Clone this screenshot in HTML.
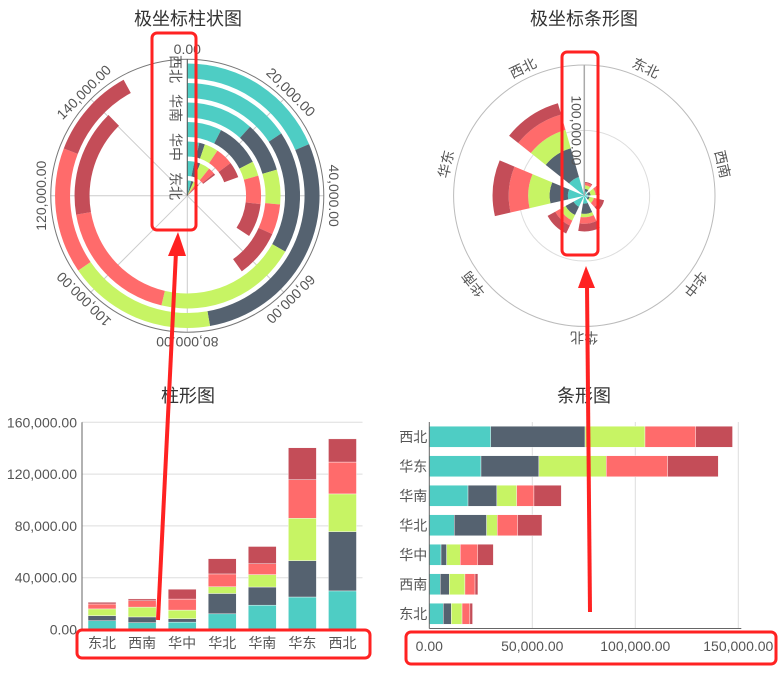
<!DOCTYPE html>
<html><head><meta charset="utf-8">
<style>
html,body{margin:0;padding:0;background:#fff;}
svg{display:block;font-family:"Liberation Sans","Noto Sans CJK SC",sans-serif;}
.title{font-size:18px;fill:#333;font-family:"Noto Sans CJK SC","Liberation Sans",sans-serif;}
.lbl{font-size:14px;fill:#555;font-family:"Liberation Sans","Noto Sans CJK SC",sans-serif;}
</style></head>
<body>
<svg id="c" width="782" height="677" viewBox="0 0 782 677" xmlns="http://www.w3.org/2000/svg">
<text class="title" x="188" y="25" text-anchor="middle">极坐标柱状图</text>
<text class="title" x="584" y="25" text-anchor="middle">极坐标条形图</text>
<text class="title" x="188" y="402" text-anchor="middle">柱形图</text>
<text class="title" x="584" y="402" text-anchor="middle">条形图</text>
<g id="g1"></g>
<g id="g2"></g>
<g id="g3"></g>
<g id="g4"></g>
<g id="annot">
<rect x="152" y="33" width="44" height="197" rx="5" fill="none" stroke="#f22" stroke-width="3"/>
<rect x="562" y="52" width="36" height="203" rx="5" fill="none" stroke="#f22" stroke-width="3"/>
<rect x="77" y="630" width="293" height="28" rx="5" fill="none" stroke="#f22" stroke-width="3"/>
<rect x="406" y="632" width="370" height="32" rx="5" fill="none" stroke="#f22" stroke-width="3"/>
<line x1="158" y1="620" x2="176" y2="252" stroke="#f22" stroke-width="4"/>
<polygon points="178,232 168,256 186,256" fill="#f22"/>
<line x1="590" y1="612" x2="587" y2="285" stroke="#f22" stroke-width="4"/>
<polygon points="586,266 578,288 595,288" fill="#f22"/>
</g>
</svg>
<script>
const categories = ['东北','西南','华中','华北','华南','华东','西北'];
const seriesA = [6800,5300,5700,12100,18800,25100,29800];
const seriesB = [3900,4400,2700,15700,14000,28100,45800];
const seriesC = [5200,7600,6600,5200,9600,32700,29100];
const seriesD = [3800,4900,8500,9900,8400,29800,24600];
const seriesE = [1300,1400,7600,11800,13300,24600,17900];
const colors = ['#4ecdc4','#556270','#c7f464','#ff6b6b','#c44d58'];
const polarAngleTicks = [0,20000,40000,60000,80000,100000,120000,140000];
const polarRadiusLabels = ['东北','华中','华南','西北'];
const columnTicks = [0,40000,80000,120000,160000];
const barTicks = [0,50000,100000,150000];
const series = [seriesA,seriesB,seriesC,seriesD,seriesE];
const NS='http://www.w3.org/2000/svg';
function mk(parent,tag,attrs){const e=document.createElementNS(NS,tag);for(const k in attrs)e.setAttribute(k,attrs[k]);parent.appendChild(e);return e;}
function fmt(v){return v.toLocaleString('en-US',{minimumFractionDigits:2,maximumFractionDigits:2});}
function pt(cx,cy,r,a){const t=a*Math.PI/180;return [cx+r*Math.sin(t),cy-r*Math.cos(t)];}
function sector(cx,cy,r0,r1,a0,a1){
  const large=(a1-a0)>180?1:0;
  const p1=pt(cx,cy,r1,a0),p2=pt(cx,cy,r1,a1),p3=pt(cx,cy,r0,a1),p4=pt(cx,cy,r0,a0);
  let d=`M${p1[0]},${p1[1]} A${r1},${r1} 0 ${large} 1 ${p2[0]},${p2[1]} L${p3[0]},${p3[1]}`;
  if(r0>0.01) d+=` A${r0},${r0} 0 ${large} 0 ${p4[0]},${p4[1]}`;
  return d+' Z';
}

// ---------- Chart 1: polar bar (angle = value) ----------
(function(){
  const g=document.getElementById('g1');
  const cx=187.3,cy=195.7,R=136.5,maxV=160000;
  const ang=v=>v/maxV*360;
  const band=R/categories.length;
  for(let i=0;i<8;i++){const p=pt(cx,cy,R,i*45);
    const l=mk(g,'line',{x1:cx,y1:cy,x2:p[0],y2:p[1],stroke:'#ccc','stroke-width':1});
    
    }
  const c=mk(g,'circle',{cx:cx,cy:cy,r:R,fill:'none',stroke:'#777','stroke-width':1});
  
  
  categories.forEach((cat,i)=>{
    let acc=0;const rc=(i+0.5)*band-2;
    series.forEach((s,k)=>{
      const v=s[i];
      const p=mk(g,'path',{d:sector(cx,cy,rc-7.5,rc+7.5,ang(acc),ang(acc+v)),fill:colors[k]});
      
      
      acc+=v;
    });
  });
  const ax=mk(g,'line',{x1:cx,y1:cy,x2:cx,y2:cy-R,stroke:'#555','stroke-width':1});
  
  
  polarAngleTicks.forEach(v=>{
    const a=ang(v),p=pt(cx,cy,R+10,a);
    const t=mk(g,'text',{class:'lbl',transform:`translate(${p[0]},${p[1]}) rotate(${a})`,'text-anchor':'middle','dominant-baseline':'central'});
    t.textContent=fmt(v);
    
    
  });
  polarRadiusLabels.forEach(cat=>{
    const i=categories.indexOf(cat);
    const t=mk(g,'text',{class:'lbl',transform:`translate(${cx-12},${cy-(i+0.5)*band}) rotate(90)`,'text-anchor':'middle','dominant-baseline':'central'});
    t.textContent=cat;
    
    
  });
})();

// ---------- Chart 2: polar column (angle = category) ----------
(function(){
  const g=document.getElementById('g2');
  const cx=584.3,cy=195.7,R=130.7,maxV=200000;
  const rad=v=>v/maxV*R;
  const slot=360/categories.length;
  [R/2,R].forEach((r,j)=>{const c=mk(g,'circle',{cx:cx,cy:cy,r:r,fill:'none',stroke:j?'#bbb':'#ddd','stroke-width':1});
    
    });
  categories.forEach((cat,i)=>{
    let acc=0;const a0=i*slot,a1=a0+slot*0.69;
    series.forEach((s,k)=>{
      const v=s[i];
      const p=mk(g,'path',{d:sector(cx,cy,rad(acc),rad(acc+v),a0,a1),fill:colors[k]});
      
      
      acc+=v;
    });
    const a=(i+0.5)*slot,p=pt(cx,cy,R+11,a);
    const t=mk(g,'text',{class:'lbl',transform:`translate(${p[0]},${p[1]}) rotate(${a})`,'text-anchor':'middle','dominant-baseline':'central'});
    t.textContent=cat;
    
    
  });
  const ax=mk(g,'line',{x1:cx,y1:cy,x2:cx,y2:cy-R,stroke:'#aaa','stroke-width':1.5});
  
  
  const t=mk(g,'text',{class:'lbl',transform:`translate(${cx-8},${cy-rad(100000)}) rotate(90)`,'text-anchor':'middle','dominant-baseline':'central'});
  t.textContent=fmt(100000);
  
  
})();

// ---------- Chart 3: stacked column ----------
(function(){
  const g=document.getElementById('g3');
  const x0=82,x1=362.5,y0=629.5,yTop=422.3,maxV=160000;
  const y=v=>y0-v/maxV*(y0-yTop);
  const bw=(x1-x0)/categories.length;
  columnTicks.forEach(v=>{
    if(v>0){const l=mk(g,'line',{x1:x0,y1:y(v),x2:x1,y2:y(v),stroke:'#ddd','stroke-width':1});
      
      }
    const t=mk(g,'text',{class:'lbl',x:x0-5,y:y(v),'text-anchor':'end','dominant-baseline':'central'});
    t.textContent=fmt(v);
    
    
  });
  categories.forEach((cat,i)=>{
    let acc=0;const bx=x0+i*bw+(bw-28)/2;
    series.forEach((s,k)=>{
      const v=s[i];
      const r=mk(g,'rect',{x:bx,y:y(acc+v),width:28,height:y(acc)-y(acc+v),fill:colors[k],stroke:'#fff','stroke-width':0.4});
      
      
      acc+=v;
    });
    const t=mk(g,'text',{class:'lbl',x:x0+(i+0.5)*bw,y:643,'text-anchor':'middle','dominant-baseline':'central'});
    t.textContent=cat;
    
    
  });
  const ya=mk(g,'line',{x1:x0,y1:yTop,x2:x0,y2:y0,stroke:'#666','stroke-width':1});
  
  
  const xa=mk(g,'line',{x1:x0,y1:y0,x2:x1,y2:y0,stroke:'#666','stroke-width':1});
  
  
})();

// ---------- Chart 4: stacked horizontal bar ----------
(function(){
  const g=document.getElementById('g4');
  const x0=429.3,yTop=422,y0=628.5,pxPerK=2.06;
  const x=v=>x0+v/1000*pxPerK;
  const bh=(y0-yTop)/categories.length;
  barTicks.forEach(v=>{
    if(v>0){const l=mk(g,'line',{x1:x(v),y1:yTop,x2:x(v),y2:y0,stroke:'#ddd','stroke-width':1});
      
      }
    const t=mk(g,'text',{class:'lbl',x:x(v),y:646,'text-anchor':'middle','dominant-baseline':'central'});
    t.textContent=fmt(v);
    
    
  });
  categories.forEach((cat,i)=>{
    let acc=0;const cyb=y0-(i+0.5)*bh;
    series.forEach((s,k)=>{
      const v=s[i];
      const r=mk(g,'rect',{x:x(acc),y:cyb-10.5,width:x(acc+v)-x(acc),height:21,fill:colors[k],stroke:'#fff','stroke-width':0.4});
      
      
      acc+=v;
    });
    const t=mk(g,'text',{class:'lbl',x:x0-2,y:cyb,'text-anchor':'end','dominant-baseline':'central'});
    t.textContent=cat;
    
    
  });
  const ya=mk(g,'line',{x1:x0,y1:yTop,x2:x0,y2:y0,stroke:'#666','stroke-width':1});
  
  
  const xa=mk(g,'line',{x1:x0,y1:y0,x2:x(150000)+3,y2:y0,stroke:'#666','stroke-width':1});
  
  
})();
document.getElementById('c').appendChild(document.getElementById('annot'));
</script>
</body></html>
